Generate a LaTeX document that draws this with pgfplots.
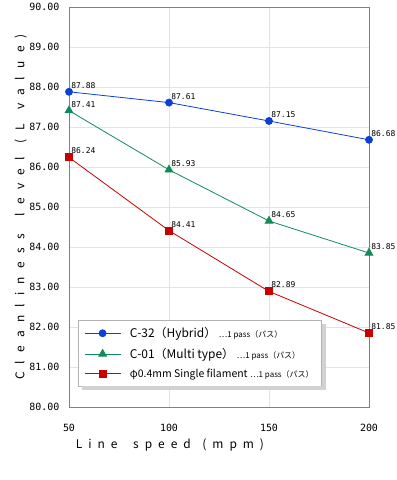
\documentclass[border=0pt]{standalone}
\usepackage{pgfplots}
\pgfplotsset{compat=1.18}
\usepackage{fontspec}
\setmainfont{Noto Sans CJK JP}
\newfontfamily\mono{DejaVu Sans Mono}
\newfontfamily\spaced[LetterSpace=69]{Noto Sans CJK JP}
\newfontfamily\xspaced[LetterSpace=50]{Noto Sans CJK JP}
\definecolor{cblue}{HTML}{0A3FD8}
\definecolor{cgreen}{HTML}{138A5A}
\definecolor{cred}{HTML}{C80000}
\begin{document}
\begin{tikzpicture}
\begin{axis}[
  scale only axis, width=300bp, height=400bp,
  xmin=50, xmax=200, ymin=80, ymax=90,
  xtick={50,100,150,200}, ytick={80,81,...,90},
  yticklabel={\pgfmathprintnumber[fixed,fixed zerofill,precision=2]{\tick}},
  /pgf/number format/assume math mode=true,
  tick label style={font=\mono\fontsize{10}{12}\selectfont},
  xticklabel style={yshift=-14bp},
  yticklabel style={xshift=-6bp},
  grid=major, grid style={gray!22},
  axis line style={gray, line width=0.8bp},
  tick style={draw=none},
  clip=false,
  xlabel={\xspaced\fontsize{12}{14}\selectfont Line\hspace{7bp} speed\hspace{3bp} (mpm)},
  ylabel={\spaced\fontsize{12}{14}\selectfont Cleanliness\hspace{7bp} level\hspace{3bp} (L\hspace{4bp} value)},
  xlabel style={yshift=0bp, xshift=-49bp},
  ylabel style={yshift=-4bp},
  nodes near coords={\pgfmathprintnumber[fixed,fixed zerofill,precision=2]{\pgfplotspointmeta}},
  every node near coord/.append style={font=\mono\fontsize{8}{9}\selectfont, anchor=south west, inner sep=1bp, text=black, xshift=1bp, yshift=2bp},
  legend style={name=leg, at={(axis cs:54.5,82.17)}, anchor=north west, draw=gray!60, fill=white,
    font=\fontsize{12}{14}\selectfont, row sep=5bp, inner xsep=6bp, inner ysep=5bp, cells={anchor=west},
    /tikz/every odd column/.append style={column sep=7bp}},
  legend image code/.code={\draw (0bp,0bp) -- (36bp,0bp); \draw plot coordinates {(18bp,0bp)};},
]
\addplot[cblue, line width=0.8bp, mark=*, mark size=3.5bp] coordinates {(50,87.88) (100,87.61) (150,87.15) (200,86.68)};
\addlegendentry{C-32（Hybrid） {\fontsize{8}{9}\selectfont …1 pass（パス）}}
\addplot[cgreen, line width=0.8bp, mark=triangle*, mark size=4.5bp] coordinates {(50,87.41) (100,85.93) (150,84.65) (200,83.85)};
\addlegendentry{C-01（Multi type） {\fontsize{8}{9}\selectfont …1 pass（パス）}}
\addplot[cred, line width=0.8bp, mark=square*, mark size=3.5bp] coordinates {(50,86.24) (100,84.41) (150,82.89) (200,81.85)};
\addlegendentry{{\fontsize{10.5}{13}\selectfont φ0.4mm Single filament} {\fontsize{8}{9}\selectfont …1 pass（パス）}}
\coordinate (sw) at (rel axis cs:0,0);
\end{axis}
\fill[gray!35] ([xshift=4bp,yshift=-4bp]leg.south west) rectangle ([xshift=4bp]leg.south east);
\fill[gray!35] ([yshift=-4bp]leg.north east) rectangle ([xshift=4bp]leg.south east);
\pgfresetboundingbox
\path (sw) ++(-69bp,-73bp) rectangle ++(397bp,480bp);
\end{tikzpicture}
\end{document}
